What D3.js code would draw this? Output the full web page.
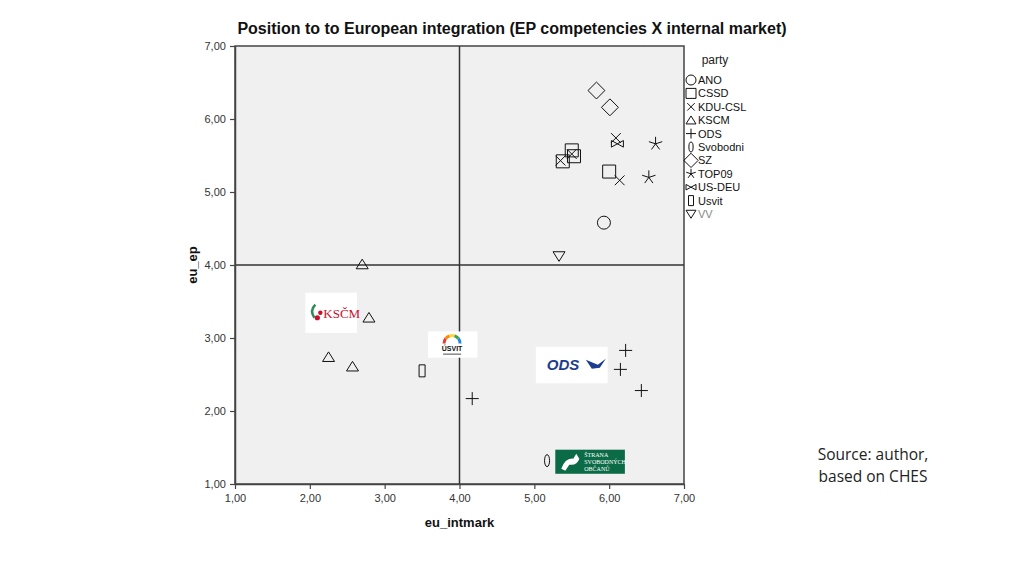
<!DOCTYPE html>
<html>
<head>
<meta charset="utf-8">
<script src="https://cdn.jsdelivr.net/npm/d3@7"></script>
<style>
  body { margin: 0; background: #fff; }
  svg { font-family: "Liberation Sans", Arial, sans-serif; }
</style>
</head>
<body>
<div id="chart"></div>
<script>
// party order for legend
var parties = ["ANO", "CSSD", "KDU-CSL", "KSCM", "ODS", "Svobodni", "SZ", "TOP09", "US-DEU", "Usvit", "VV"];

// points: [eu_intmark, eu_ep]
var ano = [[5.93, 4.58]];
var cssd = [[5.50, 5.57], [5.53, 5.49], [5.38, 5.42], [6.00, 5.28]];
var kdu = [[5.35, 5.43], [5.50, 5.52], [6.09, 5.74], [6.14, 5.16]];
var kscm = [[2.70, 4.01], [2.79, 3.28], [2.25, 2.74], [2.57, 2.61]];
var ods = [[4.17, 2.17], [6.22, 2.83], [6.15, 2.57], [6.43, 2.28]];
var svobodni = [[5.17, 1.32]];
var sz = [[5.83, 6.39], [6.01, 6.16]];
var top09 = [[6.62, 5.66], [6.53, 5.20]];
var usdeu = [[6.11, 5.66]];
var usvit = [[3.50, 2.55]];
var vv = [[5.33, 4.12]];

var xTicks = [1, 2, 3, 4, 5, 6, 7];
var yTicks = [1, 2, 3, 4, 5, 6, 7];

var seriesPoints = {
  "ANO": ano, "CSSD": cssd, "KDU-CSL": kdu, "KSCM": kscm, "ODS": ods,
  "Svobodni": svobodni, "SZ": sz, "TOP09": top09, "US-DEU": usdeu,
  "Usvit": usvit, "VV": vv
};

var svgWidth = 1024;
var svgHeight = 576;

var margin = { top: 46, right: 340, bottom: 92, left: 235 };
var width = svgWidth - margin.left - margin.right;   // 449
var height = svgHeight - margin.top - margin.bottom; // 438

var fmt = d => d.toFixed(2).replace(".", ",");

// marker outlines, s = half size
function shape(name, s) {
  switch (name) {
    case "ANO":
      return `M${-s},0A${s},${s} 0 1,0 ${s},0A${s},${s} 0 1,0 ${-s},0Z`;
    case "CSSD":
      return `M${-s},${-s}H${s}V${s}H${-s}Z`;
    case "KDU-CSL":
      var k = s * 0.75;
      return `M${-k},${-k}L${k},${k}M${-k},${k}L${k},${-k}`;
    case "KSCM":
      return `M0,${-s * 0.85}L${s},${s * 0.75}L${-s},${s * 0.75}Z`;
    case "ODS":
      return `M${-s},0H${s}M0,${-s}V${s}`;
    case "Svobodni":
      var rx = s * 0.42;
      return `M${-rx},0A${rx},${s} 0 1,0 ${rx},0A${rx},${s} 0 1,0 ${-rx},0Z`;
    case "SZ":
      var d = s * 1.3;
      return `M0,${-d}L${d},0L0,${d}L${-d},0Z`;
    case "TOP09":
      var p = "";
      for (var i = 0; i < 5; i++) {
        var a = -Math.PI / 2 + i * 2 * Math.PI / 5;
        p += `M0,0L${(s * Math.cos(a)).toFixed(2)},${(s * Math.sin(a)).toFixed(2)}`;
      }
      return p;
    case "US-DEU":
      var h = s * 0.55;
      return `M${-s},${-h}L${s},${h}L${s},${-h}L${-s},${h}Z`;
    case "Usvit":
      var w = s * 0.5;
      return `M${-w},${-s}H${w}V${s}H${-w}Z`;
    case "VV":
      return `M0,${s * 0.85}L${s},${-s * 0.75}L${-s},${-s * 0.75}Z`;
  }
}

var svg = d3.select("#chart")
  .append("svg")
  .attr("width", svgWidth)
  .attr("height", svgHeight);

svg.append("text")
  .attr("x", 512)
  .attr("y", 34)
  .attr("text-anchor", "middle")
  .attr("font-size", "16px")
  .attr("font-weight", "bold")
  .attr("fill", "#111")
  .text("Position to to European integration (EP competencies X internal market)");

var chartGroup = svg.append("g")
  .attr("transform", `translate(${margin.left}, ${margin.top})`);

var xScale = d3.scaleLinear().domain([1, 7]).range([0, width]);
var yScale = d3.scaleLinear().domain([1, 7]).range([height, 0]);

chartGroup.append("rect")
  .attr("width", width)
  .attr("height", height)
  .attr("fill", "#f0f0f0")
  .attr("stroke", "#444")
  .attr("stroke-width", 1.5);

// reference lines at 4
chartGroup.append("line")
  .attr("x1", xScale(4)).attr("x2", xScale(4))
  .attr("y1", 0).attr("y2", height)
  .attr("stroke", "#333").attr("stroke-width", 1.5);

chartGroup.append("line")
  .attr("x1", 0).attr("x2", width)
  .attr("y1", yScale(4)).attr("y2", yScale(4))
  .attr("stroke", "#333").attr("stroke-width", 1.5);

var xAxis = d3.axisBottom(xScale).tickValues(xTicks).tickFormat(fmt).tickSize(5).tickSizeOuter(0);
var yAxis = d3.axisLeft(yScale).tickValues(yTicks).tickFormat(fmt).tickSize(5).tickSizeOuter(0);

var gx = chartGroup.append("g")
  .attr("class", "x axis")
  .attr("transform", `translate(0, ${height})`)
  .call(xAxis);

var gy = chartGroup.append("g")
  .attr("class", "y axis")
  .call(yAxis);

[gx, gy].forEach(g => {
  g.select(".domain").attr("stroke", "#444").attr("stroke-width", 1.5);
  g.selectAll(".tick line").attr("stroke", "#444").attr("stroke-width", 1.2);
  g.selectAll(".tick text")
    .attr("font-family", "Liberation Sans, Arial, sans-serif")
    .attr("font-size", "11px")
    .attr("fill", "#333");
});
gx.selectAll(".tick text").attr("dy", "0.9em");
gy.selectAll(".tick text").attr("dx", "-0.1em");

chartGroup.append("text")
  .attr("x", width / 2)
  .attr("y", height + 43)
  .attr("text-anchor", "middle")
  .attr("font-size", "13px")
  .attr("font-weight", "bold")
  .attr("fill", "#111")
  .text("eu_intmark");

chartGroup.append("text")
  .attr("transform", "rotate(-90)")
  .attr("x", -yScale(4))
  .attr("y", -38)
  .attr("text-anchor", "middle")
  .attr("font-size", "13px")
  .attr("font-weight", "bold")
  .attr("fill", "#111")
  .text("eu_ep");

// logos (approximate drawings)
function logoBox(x0, y0, x1, y1, fill) {
  return chartGroup.append("rect")
    .attr("x", xScale(x0)).attr("y", yScale(y1))
    .attr("width", xScale(x1) - xScale(x0))
    .attr("height", yScale(y0) - yScale(y1))
    .attr("fill", fill);
}

// KSCM
logoBox(1.94, 3.07, 2.63, 3.62, "#fff");
var kx = xScale(1.94), ky = yScale(3.62);
chartGroup.append("path")
  .attr("d", `M${kx + 10},${ky + 12}Q${kx + 4},${ky + 18} ${kx + 9},${ky + 25}`)
  .attr("fill", "none").attr("stroke", "#2e8b57").attr("stroke-width", 2.5);
chartGroup.append("circle").attr("cx", kx + 12).attr("cy", ky + 25).attr("r", 2.6).attr("fill", "#c8102e");
chartGroup.append("circle").attr("cx", kx + 15).attr("cy", ky + 20).attr("r", 2.2).attr("fill", "#c8102e");
chartGroup.append("text")
  .attr("x", kx + 18).attr("y", ky + 25)
  .style("font-family", "Liberation Serif, serif")
  .attr("font-size", "13px")
  .attr("fill", "#c8102e")
  .text("KSČM");

// USVIT
logoBox(3.58, 2.73, 4.24, 3.09, "#fff");
var ux = xScale(3.58), uy = yScale(3.09);
var arcColors = ["#e53935", "#fb8c00", "#fdd835", "#43a047", "#1e88e5"];
arcColors.forEach((c, i) => {
  var a0 = Math.PI + i * Math.PI / 5, a1 = a0 + Math.PI / 5;
  var cx = ux + 24, cy = uy + 12, r = 8;
  chartGroup.append("path")
    .attr("d", `M${cx + r * Math.cos(a0)},${cy + r * Math.sin(a0)}A${r},${r} 0 0,1 ${cx + r * Math.cos(a1)},${cy + r * Math.sin(a1)}`)
    .attr("fill", "none").attr("stroke", c).attr("stroke-width", 3);
});
chartGroup.append("text")
  .attr("x", ux + 24).attr("y", uy + 20)
  .attr("text-anchor", "middle")
  .attr("font-size", "7px").attr("font-weight", "bold").attr("fill", "#111")
  .text("ÚSVIT");
chartGroup.append("rect")
  .attr("x", ux + 15).attr("y", uy + 22).attr("width", 18).attr("height", 1.5).attr("fill", "#888");

// ODS
logoBox(5.02, 2.38, 5.98, 2.88, "#fff");
var ox = xScale(5.02), oy = yScale(2.88);
chartGroup.append("text")
  .attr("x", ox + 11).attr("y", oy + 23)
  .attr("font-size", "15px").attr("font-weight", "bold").attr("font-style", "italic")
  .attr("fill", "#1b3d8f")
  .text("ODS");
chartGroup.append("path")
  .attr("d", `M${ox + 50},${oy + 13}L${ox + 62},${oy + 18}L${ox + 70},${oy + 12}L${ox + 64},${oy + 21}L${ox + 56},${oy + 22}Z`)
  .attr("fill", "#1b3d8f");

// Svobodni
logoBox(5.28, 1.14, 6.21, 1.47, "#0b6b47");
var sx = xScale(5.28), sy = yScale(1.47);
chartGroup.append("path")
  .attr("d", `M${sx + 6},${sy + 19}Q${sx + 10},${sy + 8} ${sx + 18},${sy + 9}L${sx + 21},${sy + 4}L${sx + 24},${sy + 9}Q${sx + 22},${sy + 16} ${sx + 14},${sy + 15}L${sx + 10},${sy + 21}Z`)
  .attr("fill", "#fff");
["ŠTRANA", "SVOBODNÝCH", "OBČANŮ"].forEach((t, i) => {
  chartGroup.append("text")
    .attr("x", sx + 29).attr("y", sy + 7 + i * 7)
    .style("font-family", "Liberation Serif, serif")
    .attr("font-size", "6px").attr("fill", "#fff")
    .text(t);
});

// markers
var sizes = { "ANO": 6.5, "CSSD": 6.5, "KDU-CSL": 6.5, "KSCM": 6, "ODS": 6.5, "Svobodni": 6,
  "SZ": 6.5, "TOP09": 7, "US-DEU": 6, "Usvit": 6, "VV": 6 };

parties.forEach(p => {
  chartGroup.selectAll(null)
    .data(seriesPoints[p])
    .enter()
    .append("path")
    .attr("transform", d => `translate(${xScale(d[0])}, ${yScale(d[1])})`)
    .attr("d", shape(p, sizes[p]))
    .attr("fill", "none")
    .attr("stroke", "#111")
    .attr("stroke-width", 1);
});

// legend
var legend = svg.append("g").attr("transform", "translate(684, 0)");

legend.append("text")
  .attr("x", 31).attr("y", 64)
  .attr("text-anchor", "middle")
  .attr("font-size", "12px").attr("fill", "#222")
  .text("party");

var rows = legend.selectAll(".row")
  .data(parties)
  .enter()
  .append("g")
  .attr("class", "row")
  .attr("transform", (d, i) => `translate(0, ${80 + i * 13.4})`);

rows.append("path")
  .attr("transform", "translate(7, 0)")
  .attr("d", d => shape(d, d === "SZ" ? 5.5 : 5))
  .attr("fill", "none")
  .attr("stroke", "#111")
  .attr("stroke-width", 1);

rows.append("text")
  .attr("x", 14).attr("y", 4)
  .attr("font-size", "11px")
  .attr("fill", d => d === "VV" ? "#888" : "#111")
  .text(d => d);

// source note
svg.append("text")
  .attr("x", 873).attr("y", 460)
  .attr("text-anchor", "middle")
  .style("font-family", "Open Sans, sans-serif")
  .attr("font-size", "15.5px").attr("fill", "#222")
  .text("Source: author,");

svg.append("text")
  .attr("x", 873).attr("y", 482)
  .attr("text-anchor", "middle")
  .style("font-family", "Open Sans, sans-serif")
  .attr("font-size", "15.5px").attr("fill", "#222")
  .text("based on CHES");
</script>
</body>
</html>
